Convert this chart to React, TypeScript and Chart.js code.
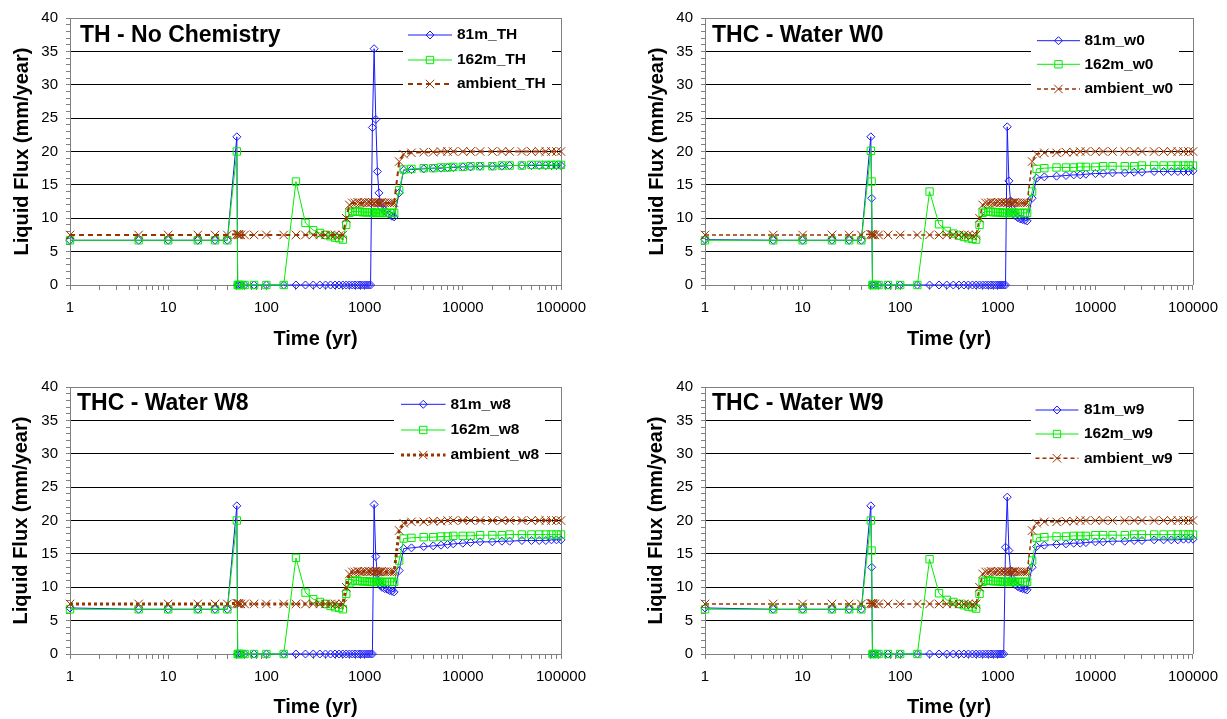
import React, { useEffect, useRef } from 'react';
import { Chart, registerables } from 'chart.js';

Chart.register(...registerables);

const FONT = "'Liberation Sans', Arial, Helvetica, sans-serif";
Chart.defaults.font.family = FONT;

// ---------------- DATA ----------------
const times = [
  1, 5, 10, 20, 30, 40,
  50, 51, 52, 53, 55, 60, 75, 100, 150,
  200, 250, 300, 350, 400, 450, 500, 550, 600,
  650, 700, 750, 800, 850, 900, 950, 1000,
  1050, 1100, 1150,
  1200, 1250, 1300, 1350, 1400, 1450, 1500,
  1600, 1700, 1800, 1900, 2000,
  2250, 2500, 3000, 4000, 5000, 6000, 7000, 8000,
  10000, 12000, 15000, 20000, 25000, 30000, 40000, 50000,
  60000, 70000, 80000, 90000, 100000,
];

// TH - No Chemistry
const th81 = [
  6.7, 6.7, 6.7, 6.7, 6.7, 6.7,
  22.2, 0, 0, 0, 0, 0, 0, 0, 0,
  0, 0, 0, 0, 0, 0, 0, 0, 0,
  0, 0, 0, 0, 0, 0, 0, 0,
  0, 0, 0,
  23.6, 35.4, 24.8, 17.0, 13.8, 12.3, 11.6,
  11.2, 10.8, 10.5, 10.3, 10.2,
  13.8, 17.2, 17.3, 17.4, 17.5, 17.5, 17.6, 17.6,
  17.7, 17.7, 17.8, 17.8, 17.8, 17.9, 17.9, 17.9,
  17.9, 17.9, 17.9, 17.9, 17.9,
];
const th162 = [
  6.7, 6.7, 6.7, 6.7, 6.7, 6.7,
  20.0, 0, 0, 0, 0, 0, 0, 0, 0,
  15.5, 9.3, 8.2, 7.8, 7.5, 7.3, 7.1, 7.0, 6.8,
  9.0, 10.8, 11.0, 11.0, 11.0, 11.0, 10.9, 10.9,
  10.9, 10.9, 10.9,
  10.9, 10.8, 10.8, 10.8, 10.8, 10.8, 10.8,
  10.8, 10.8, 10.8, 10.8, 10.8,
  14.2, 17.3, 17.4, 17.5, 17.5, 17.6, 17.6, 17.7,
  17.7, 17.8, 17.8, 17.8, 17.9, 17.9, 17.9, 18.0,
  18.0, 18.0, 18.0, 18.0, 18.0,
];
const thAmb = [
  7.5, 7.5, 7.5, 7.5, 7.5, 7.5,
  7.6, 7.5, 7.6, 7.5, 7.5, 7.5, 7.5, 7.5, 7.5,
  7.5, 7.5, 7.5, 7.5, 7.5, 7.5, 7.5, 7.4, 7.5,
  10.0, 12.0, 12.3, 12.3, 12.4, 12.3, 12.3, 12.4,
  12.3, 12.4, 12.3,
  12.4, 12.3, 12.4, 12.3, 12.3, 12.3, 12.4,
  12.3, 12.3, 12.3, 12.3, 12.3,
  18.5, 19.6, 19.8, 19.9, 19.9, 20.0, 20.0, 20.0,
  20.0, 20.0, 20.0, 20.0, 20.0, 20.0, 20.0, 20.0,
  20.0, 20.0, 20.0, 20.0, 20.0,
];

// THC - Water W0
const w0_81 = [
  6.8, 6.7, 6.7, 6.7, 6.7, 6.7,
  22.2, 13.0, 0, 0, 0, 0, 0, 0, 0,
  0, 0, 0, 0, 0, 0, 0, 0, 0,
  0, 0, 0, 0, 0, 0, 0, 0,
  0, 0, 0,
  0, 23.7, 15.6, 12.6, 11.4, 10.8, 10.4,
  10.1, 9.9, 9.8, 9.7, 9.6,
  13.0, 16.0, 16.2, 16.3, 16.4, 16.5, 16.5, 16.6,
  16.7, 16.7, 16.8, 16.8, 16.9, 16.9, 17.0, 17.0,
  17.0, 17.0, 17.0, 17.0, 17.1,
];
const w0_162 = [
  6.7, 6.7, 6.7, 6.7, 6.7, 6.7,
  20.1, 15.5, 0, 0, 0, 0, 0, 0, 0,
  14.0, 9.1, 8.1, 7.7, 7.4, 7.2, 7.0, 6.9, 6.8,
  9.0, 10.8, 11.0, 11.0, 11.0, 10.9, 10.9, 10.9,
  10.9, 10.8, 10.8,
  10.8, 10.8, 10.8, 10.8, 10.8, 10.8, 10.8,
  10.8, 10.8, 10.8, 10.8, 10.8,
  14.0, 17.4, 17.5, 17.6, 17.6, 17.6, 17.7, 17.7,
  17.7, 17.8, 17.8, 17.8, 17.8, 17.9, 17.9, 17.9,
  17.9, 17.9, 17.9, 17.9, 17.9,
];
const w0Amb = [
  7.5, 7.5, 7.5, 7.5, 7.5, 7.5,
  7.6, 7.5, 7.6, 7.5, 7.5, 7.5, 7.5, 7.5, 7.5,
  7.5, 7.5, 7.5, 7.5, 7.5, 7.5, 7.5, 7.4, 7.5,
  10.0, 12.0, 12.3, 12.3, 12.4, 12.3, 12.3, 12.4,
  12.3, 12.4, 12.3,
  12.4, 12.3, 12.4, 12.3, 12.3, 12.3, 12.4,
  12.3, 12.3, 12.3, 12.3, 12.3,
  18.5, 19.6, 19.8, 19.8, 19.9, 19.9, 20.0, 20.0,
  20.0, 20.0, 20.0, 20.0, 20.0, 20.0, 20.0, 20.0,
  20.0, 20.0, 20.0, 20.0, 20.0,
];

// THC - Water W8
const w8_81 = [
  6.9, 6.7, 6.7, 6.7, 6.7, 6.7,
  22.2, 0, 0, 0, 0, 0, 0, 0, 0,
  0, 0, 0, 0, 0, 0, 0, 0, 0,
  0, 0, 0, 0, 0, 0, 0, 0,
  0, 0, 0,
  0, 22.4, 14.6, 12.0, 10.8, 10.3, 10.0,
  9.8, 9.7, 9.5, 9.4, 9.3,
  12.5, 15.8, 15.9, 16.1, 16.2, 16.3, 16.4, 16.5,
  16.6, 16.7, 16.8, 16.8, 16.9, 16.9, 17.0, 17.0,
  17.0, 17.0, 17.1, 17.1, 17.1,
];
const w8_162 = [
  6.7, 6.7, 6.7, 6.7, 6.7, 6.7,
  20.0, 0, 0, 0, 0, 0, 0, 0, 0,
  14.4, 9.2, 8.2, 7.8, 7.5, 7.2, 7.0, 6.9, 6.7,
  9.0, 10.6, 10.9, 11.0, 11.0, 10.9, 10.9, 10.9,
  10.9, 10.8, 10.8,
  10.8, 10.8, 10.8, 10.8, 10.8, 10.8, 10.8,
  10.8, 10.8, 10.8, 10.8, 10.8,
  14.0, 17.3, 17.4, 17.5, 17.5, 17.6, 17.6, 17.7,
  17.7, 17.7, 17.8, 17.8, 17.8, 17.9, 17.9, 17.9,
  17.9, 17.9, 17.9, 17.9, 17.9,
];
const w8Amb = [
  7.5, 7.5, 7.5, 7.5, 7.5, 7.5,
  7.6, 7.5, 7.6, 7.5, 7.5, 7.5, 7.5, 7.5, 7.5,
  7.5, 7.5, 7.5, 7.5, 7.5, 7.5, 7.5, 7.4, 7.5,
  10.0, 12.0, 12.3, 12.3, 12.4, 12.3, 12.3, 12.4,
  12.3, 12.4, 12.3,
  12.4, 12.3, 12.4, 12.3, 12.3, 12.3, 12.4,
  12.3, 12.3, 12.3, 12.3, 12.3,
  18.5, 19.6, 19.8, 19.8, 19.9, 19.9, 20.0, 20.0,
  20.0, 20.0, 20.0, 20.0, 20.0, 20.0, 20.0, 20.0,
  20.0, 20.0, 20.0, 20.0, 20.0,
];

// THC - Water W9
const w9_81 = [
  6.9, 6.7, 6.7, 6.7, 6.7, 6.7,
  22.2, 13.0, 0, 0, 0, 0, 0, 0, 0,
  0, 0, 0, 0, 0, 0, 0, 0, 0,
  0, 0, 0, 0, 0, 0, 0, 0,
  0, 0, 0,
  16.0, 23.5, 15.5, 12.5, 11.3, 10.7, 10.4,
  10.1, 9.9, 9.8, 9.7, 9.6,
  13.0, 16.1, 16.3, 16.4, 16.5, 16.6, 16.6, 16.7,
  16.8, 16.8, 16.9, 16.9, 17.0, 17.0, 17.1, 17.1,
  17.1, 17.1, 17.2, 17.2, 17.2,
];
const w9_162 = [
  6.7, 6.7, 6.7, 6.7, 6.7, 6.7,
  20.0, 15.5, 0, 0, 0, 0, 0, 0, 0,
  14.2, 9.1, 8.1, 7.8, 7.5, 7.3, 7.1, 7.0, 6.8,
  9.0, 10.8, 11.0, 11.0, 11.0, 10.9, 10.9, 10.9,
  10.9, 10.8, 10.8,
  10.8, 10.8, 10.8, 10.8, 10.8, 10.8, 10.8,
  10.8, 10.8, 10.8, 10.8, 10.8,
  14.0, 17.4, 17.5, 17.6, 17.6, 17.7, 17.7, 17.7,
  17.8, 17.8, 17.8, 17.8, 17.9, 17.9, 17.9, 17.9,
  17.9, 17.9, 17.9, 17.9, 17.9,
];
const w9Amb = [
  7.5, 7.5, 7.5, 7.5, 7.5, 7.5,
  7.6, 7.5, 7.6, 7.5, 7.5, 7.5, 7.5, 7.5, 7.5,
  7.5, 7.5, 7.5, 7.5, 7.5, 7.5, 7.5, 7.4, 7.5,
  10.0, 12.0, 12.3, 12.3, 12.4, 12.3, 12.3, 12.4,
  12.3, 12.4, 12.3,
  12.4, 12.3, 12.4, 12.3, 12.3, 12.3, 12.4,
  12.3, 12.3, 12.3, 12.3, 12.3,
  18.5, 19.6, 19.8, 19.8, 19.9, 19.9, 20.0, 20.0,
  20.0, 20.0, 20.0, 20.0, 20.0, 20.0, 20.0, 20.0,
  20.0, 20.0, 20.0, 20.0, 20.0,
];

const xTickLabels = ['1', '10', '100', '1000', '10000', '100000'];
const yTickLabels = ['0', '5', '10', '15', '20', '25', '30', '35', '40'];
const xAxisTitle = 'Time (yr)';
const yAxisTitle = 'Liquid Flux (mm/year)';

const titles = ['TH - No Chemistry', 'THC - Water W0', 'THC - Water W8', 'THC - Water W9'];
const legendLabels = [
  ['81m_TH', '162m_TH', 'ambient_TH'],
  ['81m_w0', '162m_w0', 'ambient_w0'],
  ['81m_w8', '162m_w8', 'ambient_w8'],
  ['81m_w9', '162m_w9', 'ambient_w9'],
];
const series81 = [th81, w0_81, w8_81, w9_81];
const series162 = [th162, w0_162, w8_162, w9_162];
const seriesAmb = [thAmb, w0Amb, w8Amb, w9Amb];

// ---------------- STYLE / LAYOUT ----------------
const BLUE = '#1a1aff';
const GREEN = '#00ee00';
const BROWN = '#993300';
const AXIS = '#808080';
const GRID = '#000000';

const layouts = [
  { left: 0, top: 0, width: 613, height: 360, yAxisW: 70, padTop: 18, padRight: 52, xAxisH: 75,
    yTitlePad: 10, xTitlePad: 9, titleDx: 10, titleDy: 23.7, ambWidth: 2, ambDash: [5, 4],
    legend: { box: [-158, -9, 4, 80], line: [-153, -109], text: -104, rows: [17, 42, 66] } },
  { left: 613, top: 0, width: 614, height: 360, yAxisW: 92, padTop: 18, padRight: 31, xAxisH: 75,
    yTitlePad: 32, xTitlePad: 9, titleDx: 7, titleDy: 23.7, ambWidth: 1.5, ambDash: [4, 3],
    legend: { box: [-162, -14, 8, 85], line: [-156, -113], text: -108.5, rows: [22.7, 46.3, 71] } },
  { left: 0, top: 360, width: 613, height: 359, yAxisW: 70, padTop: 27, padRight: 52, xAxisH: 65,
    yTitlePad: 9, xTitlePad: 0, titleDx: 7, titleDy: 23, ambWidth: 3, ambDash: [3, 3],
    legend: { box: [-167, -16, 3, 82], line: [-160, -115.5], text: -110.5, rows: [17.3, 43, 68] } },
  { left: 613, top: 360, width: 614, height: 359, yAxisW: 92, padTop: 27, padRight: 31, xAxisH: 65,
    yTitlePad: 31.5, xTitlePad: 0, titleDx: 7, titleDy: 23, ambWidth: 1.5, ambDash: [4, 3],
    legend: { box: [-162, -14.5, 8, 86], line: [-157.5, -114.5], text: -109, rows: [23, 47, 71.3] } },
];

const xTickValues: number[] = [];
for (let k = 0; k < 5; k++) {
  for (let m = 1; m <= 9; m++) xTickValues.push(m * Math.pow(10, k));
}
xTickValues.push(100000);
const yTickValues: number[] = [];
for (let v = 0; v <= 40; v++) yTickValues.push(v);

function drawMarker(ctx: CanvasRenderingContext2D, style: string, cx: number, cy: number, r: number, color: string) {
  ctx.save();
  ctx.strokeStyle = color;
  ctx.lineWidth = 1;
  ctx.setLineDash([]);
  ctx.beginPath();
  if (style === 'rectRot') {
    ctx.moveTo(cx, cy - r);
    ctx.lineTo(cx + r, cy);
    ctx.lineTo(cx, cy + r);
    ctx.lineTo(cx - r, cy);
    ctx.closePath();
  } else if (style === 'rect') {
    const s = 2 * Math.SQRT1_2 * r;
    ctx.rect(cx - s / 2, cy - s / 2, s, s);
  } else {
    const d = Math.SQRT1_2 * r;
    ctx.moveTo(cx - d, cy - d);
    ctx.lineTo(cx + d, cy + d);
    ctx.moveTo(cx - d, cy + d);
    ctx.lineTo(cx + d, cy - d);
  }
  ctx.stroke();
  ctx.restore();
}

function makeDecor(idx: number) {
  const L = layouts[idx];
  return {
    id: 'decor' + idx,
    beforeDatasetsDraw(chart: any) {
      const { ctx, chartArea: a } = chart;
      ctx.save();
      ctx.strokeStyle = AXIS;
      ctx.lineWidth = 1;
      const xr = Math.round(a.right) + 0.5;
      ctx.beginPath();
      ctx.moveTo(xr, a.top);
      ctx.lineTo(xr, a.bottom);
      ctx.stroke();
      ctx.restore();
    },
    afterDatasetsDraw(chart: any) {
      const { ctx, chartArea: a } = chart;
      const lg = L.legend;
      ctx.save();
      ctx.fillStyle = '#ffffff';
      ctx.fillRect(a.right + lg.box[0], a.top + lg.box[2], lg.box[1] - lg.box[0], lg.box[3] - lg.box[2]);
      chart.data.datasets.forEach((ds: any, i: number) => {
        const y = a.top + lg.rows[i];
        ctx.save();
        ctx.strokeStyle = ds.borderColor;
        ctx.lineWidth = ds.borderWidth;
        ctx.setLineDash(ds.borderDash || []);
        ctx.beginPath();
        ctx.moveTo(a.right + lg.line[0], y);
        ctx.lineTo(a.right + lg.line[1], y);
        ctx.stroke();
        ctx.restore();
        const cx = a.right + (lg.line[0] + lg.line[1]) / 2;
        drawMarker(ctx, ds.pointStyle, cx, y, ds.pointRadius, ds.pointBorderColor);
        ctx.fillStyle = '#000';
        ctx.font = `bold 15.5px ${FONT}`;
        ctx.textBaseline = 'middle';
        ctx.textAlign = 'left';
        ctx.fillText(ds.label, a.right + lg.text, y);
      });
      ctx.fillStyle = '#000';
      ctx.font = `bold 23px ${FONT}`;
      ctx.textBaseline = 'alphabetic';
      ctx.textAlign = 'left';
      ctx.fillText(titles[idx], a.left + L.titleDx, a.top + L.titleDy);
      ctx.restore();
    },
  };
}

function buildConfig(idx: number): any {
  const L = layouts[idx];
  const mk = (arr: number[]) => times.map((t, i) => ({ x: t, y: arr[i] }));
  const common = {
    tension: 0,
    fill: false,
    clip: false,
    pointBackgroundColor: 'rgba(0,0,0,0)',
    pointBorderWidth: 1,
    pointHoverRadius: 0,
  };
  return {
    type: 'line',
    data: {
      datasets: [
        { ...common, label: legendLabels[idx][0], data: mk(series81[idx]), borderColor: BLUE, borderWidth: 1,
          pointStyle: 'rectRot', pointRadius: 4, pointBorderColor: BLUE, order: 2 },
        { ...common, label: legendLabels[idx][1], data: mk(series162[idx]), borderColor: GREEN, borderWidth: 1,
          pointStyle: 'rect', pointRadius: 5.2, pointBorderColor: GREEN, order: 1 },
        { ...common, label: legendLabels[idx][2], data: mk(seriesAmb[idx]), borderColor: BROWN, borderWidth: L.ambWidth,
          borderDash: L.ambDash, pointStyle: 'crossRot', pointRadius: 6, pointBorderColor: BROWN, order: 0 },
      ],
    },
    options: {
      animation: false,
      responsive: false,
      maintainAspectRatio: false,
      events: [],
      layout: { autoPadding: false, padding: { top: L.padTop, right: L.padRight, left: 0, bottom: 0 } },
      plugins: { legend: { display: false }, tooltip: { enabled: false }, title: { display: false } },
      scales: {
        x: {
          type: 'logarithmic',
          min: 1,
          max: 100000,
          afterBuildTicks: (s: any) => { s.ticks = xTickValues.map((v) => ({ value: v })); },
          afterFit: (s: any) => { s.height = L.xAxisH; },
          ticks: {
            autoSkip: false, maxRotation: 0, minRotation: 0, padding: 9, color: '#000',
            font: { family: FONT, size: 15 },
            callback: (v: any) => { const s = String(v); return xTickLabels.includes(s) ? s : ''; },
          },
          grid: { drawOnChartArea: false, drawTicks: true, tickLength: 5, color: AXIS, tickColor: AXIS, lineWidth: 1 },
          border: { display: true, color: AXIS, width: 1 },
          title: { display: true, text: xAxisTitle, color: '#000', font: { family: FONT, size: 20, weight: 'bold' },
            padding: { top: 0, bottom: L.xTitlePad } },
        },
        y: {
          min: 0,
          max: 40,
          afterBuildTicks: (s: any) => { s.ticks = yTickValues.map((v) => ({ value: v })); },
          afterFit: (s: any) => { s.width = L.yAxisW; },
          ticks: {
            autoSkip: false, padding: 8, color: '#000', font: { family: FONT, size: 15 },
            callback: (v: any) => { const s = String(v); return yTickLabels.includes(s) ? s : ''; },
          },
          grid: {
            drawTicks: true, tickLength: 4, lineWidth: 1, tickColor: AXIS,
            color: (c: any) => {
              const v = c.tick ? c.tick.value : -1;
              if (v === 0) return 'rgba(0,0,0,0)';
              if (v === 40) return AXIS;
              return v % 5 === 0 ? GRID : 'rgba(0,0,0,0)';
            },
          },
          border: { display: true, color: AXIS, width: 1 },
          title: { display: true, text: yAxisTitle, color: '#000', font: { family: FONT, size: 20, weight: 'bold' },
            padding: { top: L.yTitlePad, bottom: 0 } },
        },
      },
    },
    plugins: [makeDecor(idx)],
  };
}

function Panel({ idx }: { idx: number }) {
  const ref = useRef<HTMLCanvasElement>(null);
  const L = layouts[idx];
  useEffect(() => {
    const chart = new Chart(ref.current as HTMLCanvasElement, buildConfig(idx));
    return () => chart.destroy();
  }, [idx]);
  return (
    <canvas
      ref={ref}
      width={L.width}
      height={L.height}
      style={{ position: 'absolute', left: L.left, top: L.top, width: L.width, height: L.height }}
    />
  );
}

export default function App() {
  return (
    <div style={{ position: 'absolute', left: 0, top: 0, width: 1227, height: 719, background: '#ffffff', overflow: 'hidden' }}>
      {layouts.map((_, i) => (
        <Panel key={i} idx={i} />
      ))}
    </div>
  );
}
